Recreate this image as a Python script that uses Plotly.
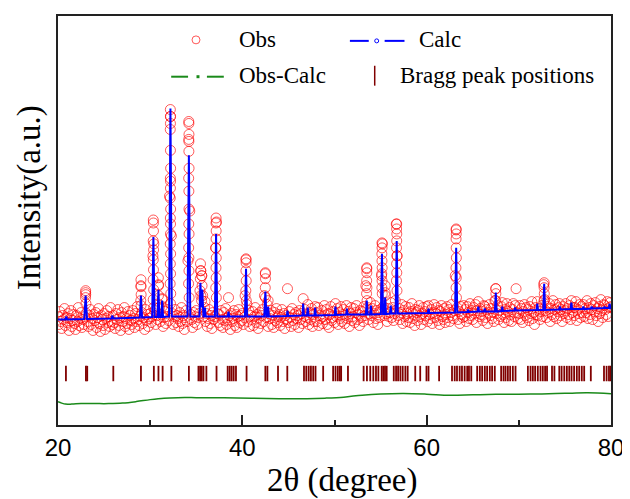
import numpy as np
import plotly.graph_objects as go

# ---------------- data (intensity in a.u.) ----------------
# observed pattern, sampled every 0.1 degree from 20.0 to 80.0
obs_rows = [
    [109,101,114,104,97,110,106,117,100,108],   # 20
    [103,112,95,107,115,99,105,111,102,96],     # 21
    [110,104,118,100,107,113,98,106,101,109],   # 22
    [133,112,104,99,110,116,101,107,95,111],    # 23
    [105,113,98,108,117,102,94,110,106,100],    # 24
    [112,96,107,115,103,109,99,118,104,101],    # 25
    [110,103,97,112,106,116,100,108,95,113],    # 26
    [104,109,118,99,107,102,114,96,110,105],    # 27
    [101,115,107,98,112,104,119,106,100,109],   # 28
    [140,113,102,108,96,116,105,111,99,107],    # 29
    [112,103,109,170,182,115,101,110,106,141],  # 30
    [118,104,111,127,99,108,114,102,109,116],   # 31
    [105,230,310,190,112,101,109,116,103,110],  # 32
    [107,99,113,104,118,102,110,96,108,115],    # 33
    [104,165,285,215,111,106,98,113,103,109],   # 34
    [115,101,108,112,135,155,150,130,109,118],  # 35
    [104,112,99,107,116,102,110,97,113,106],    # 36
    [109,178,204,112,103,111,100,115,106,98],   # 37
    [113,105,117,101,108,128,110,96,112,104],   # 38
    [107,115,100,111,98,109,116,103,110,105],   # 39
    [112,101,108,130,166,121,104,115,99,110],   # 40
    [106,114,100,109,118,103,111,97,108,113],   # 41
    [102,110,116,104,130,152,108,121,99,112],   # 42
    [107,115,101,110,98,113,105,117,103,109],   # 43
    [111,100,108,116,104,112,97,110,106,137],   # 44
    [103,114,108,99,117,105,111,101,113,107],   # 45
    [110,98,115,106,112,102,127,109,116,104],   # 46
    [108,121,101,113,106,117,99,111,104,119],   # 47
    [113,104,118,100,110,107,115,102,109,120],  # 48
    [106,116,101,112,98,111,119,105,108,114],   # 49
    [103,122,109,117,101,113,107,119,104,111],  # 50
    [116,102,110,120,107,114,99,112,118,105],   # 51
    [109,117,103,113,120,106,111,100,115,108],  # 52
    [114,104,119,110,140,157,118,106,112,123],  # 53
    [110,117,103,112,120,107,115,101,113,108],  # 54
    [116,150,182,119,110,133,112,104,117,109],  # 55
    [113,123,108,118,105,112,125,202,170,110],  # 56
    [117,106,113,121,102,115,109,119,104,112],  # 57
    [108,118,103,114,122,107,111,100,116,113],  # 58
    [105,115,120,109,101,112,118,106,114,110],  # 59
    [119,104,120,111,107,116,102,113,121,108],  # 60
    [112,118,105,115,101,114,120,109,106,117],  # 61
    [103,111,119,108,116,104,113,121,110,107],  # 62
    [115,150,196,118,106,114,102,119,111,108],  # 63
    [120,109,116,104,119,113,107,122,110,115],  # 64
    [106,118,112,121,103,115,124,109,117,111],  # 65
    [114,105,120,119,108,116,102,113,121,110],  # 66
    [117,107,113,104,125,137,112,120,106,115],  # 67
    [109,119,123,111,103,116,108,122,114,105],  # 68
    [118,111,104,116,122,109,120,137,113,107],  # 69
    [112,120,106,117,103,114,121,110,118,108],  # 70
    [116,105,119,112,124,107,113,101,118,111],  # 71
    [124,110,117,106,114,120,109,141,126,115],  # 72
    [108,119,113,122,104,117,111,125,109,116],  # 73
    [121,107,114,118,122,110,116,104,119,112],  # 74
    [115,122,108,117,111,120,106,125,113,118],  # 75
    [110,118,124,105,116,112,121,108,119,113],  # 76
    [121,109,117,113,125,107,118,111,122,116],  # 77
    [106,120,114,123,110,117,104,119,112,126],  # 78
    [115,108,121,120,116,111,124,109,118,123],  # 79
    [119],                                      # 80.0
]
obs_grid_int = [v for row in obs_rows for v in row]
obs_grid_2theta = [round(20 + 0.1 * i, 1) for i in range(len(obs_grid_int))]

# extra observed points on the flanks of the reflections (fine step scan)
obs_peak_2theta = [
    22.99, 23.0, 23.01, 23.03,
    28.98, 29.0, 29.0, 29.02, 29.01,
    30.34, 30.35, 30.36, 30.33, 30.37, 30.34, 30.36, 30.32, 30.38, 30.33, 30.38,
    30.89, 30.91, 30.9, 30.92, 31.3, 31.31,
    32.19, 32.21, 32.2, 32.18, 32.2, 32.22, 32.19, 32.21, 32.2, 32.18, 32.22,
    32.19, 32.21, 32.2, 32.18, 32.22, 32.19, 32.21, 32.17, 32.23, 32.2,
    34.19, 34.2, 34.21, 34.19, 34.2, 34.22, 34.18, 34.2, 34.21, 34.19, 34.22,
    34.18, 34.2, 34.21, 34.17, 34.23,
    35.46, 35.48, 35.44, 35.6, 35.63, 35.5, 35.58, 35.95,
    37.15, 37.14, 37.16, 37.15, 37.13, 37.17, 37.14, 37.16, 37.12, 37.18,
    40.4, 40.41, 40.39, 40.42, 40.38, 40.43,
    42.5, 42.51, 42.49, 42.52, 42.8,
    53.5, 53.51, 53.49, 53.52, 53.48, 53.53,
    55.15, 55.16, 55.14, 55.15, 55.17, 55.13, 55.16, 55.14, 55.18, 55.5, 55.52,
    56.75, 56.74, 56.76, 56.75, 56.73, 56.77, 56.74, 56.76, 56.72, 56.78,
    63.2, 63.21, 63.19, 63.2, 63.22, 63.18, 63.21, 63.19, 63.23,
    67.5, 67.51, 67.49,
    72.75, 72.74, 72.76, 72.73,
]
obs_peak_int = [
    128, 135, 131, 122,
    125, 146, 139, 131, 120,
    206, 203, 195, 185, 176, 166, 156, 146, 136, 126, 118,
    148, 140, 130, 121, 126, 119,
    317, 310, 303, 297, 276, 258, 248, 245, 238, 228, 217,
    208, 202, 192, 182, 172, 162, 152, 142, 132, 122,
    305, 303, 292, 287, 275, 258, 248, 235, 217, 202, 192,
    178, 168, 155, 142, 128,
    162, 155, 147, 150, 140, 130, 125, 124,
    208, 203, 195, 187, 178, 168, 158, 148, 138, 128,
    167, 163, 155, 145, 135, 125,
    153, 147, 138, 128, 125,
    158, 153, 145, 138, 132, 125,
    183, 178, 172, 165, 158, 152, 145, 138, 132, 140, 130,
    202, 197, 192, 185, 178, 170, 162, 153, 145, 135,
    197, 192, 187, 178, 168, 158, 148, 138, 128,
    137, 132, 125,
    143, 138, 132, 125,
]

# calculated profile
calc_2theta = [
    20.0, 20.8, 20.9, 21.0,
    22.85, 23.0, 23.15, 25.8, 25.9, 26.0,
    28.88, 29.0, 29.12, 30.22, 30.35, 30.48,
    30.8, 30.9, 31.0, 31.2, 31.3, 31.4,
    32.05, 32.2, 32.35, 34.05, 34.2, 34.35,
    35.35, 35.45, 35.55, 35.65, 35.78, 35.88, 35.95, 36.02,
    37.02, 37.15, 37.28, 38.42, 38.5, 38.58,
    40.28, 40.4, 40.52, 42.38, 42.5, 42.62, 42.72, 42.8, 42.88,
    44.82, 44.9, 44.98, 46.52, 46.6, 46.68,
    47.02, 47.1, 47.18, 47.82, 47.9, 47.98,
    50.02, 50.1, 50.18, 51.27, 51.35, 51.43,
    53.4, 53.5, 53.6, 53.87, 53.95, 54.03,
    55.03, 55.15, 55.27, 55.42, 55.5, 55.58,
    56.02, 56.1, 56.18, 56.63, 56.75, 56.87,
    60.12, 60.2, 60.28, 63.08, 63.2, 63.32,
    64.42, 64.5, 64.58, 65.52, 65.6, 65.68,
    66.22, 66.3, 66.38, 67.4, 67.5, 67.6,
    68.12, 68.2, 68.28, 69.52, 69.6, 69.68,
    71.92, 72.0, 72.08, 72.65, 72.75, 72.85,
    74.37, 74.45, 74.53, 75.62, 75.7, 75.78,
    76.92, 77.0, 77.08, 77.82, 77.9, 77.98,
    79.22, 79.3, 79.38, 79.77, 79.85, 79.93, 80.0,
]
calc_int = [
    106, 106, 109, 106,
    106.5, 130, 106.5, 107, 110, 107,
    108, 130, 108, 108.5, 189, 108.5,
    108.5, 136, 108.5, 108.5, 125, 108.5,
    109, 318, 109, 109, 271, 109,
    109, 143, 118, 136, 109, 109, 118, 109,
    109, 192, 109, 109, 114, 109,
    109, 157, 109, 109, 134, 109, 109, 119, 109,
    109.5, 115, 109.5, 110, 122, 110,
    110, 118, 110, 110, 118, 110,
    110.5, 119, 110.5, 111, 117, 111,
    111, 125, 111, 111, 120, 111,
    111.5, 172, 111.5, 111.5, 128, 111.5,
    112, 120, 112, 112, 185, 112,
    112.5, 117, 112.5, 113, 178, 113,
    113.5, 116, 113.5, 114, 119, 114,
    114, 117, 114, 114, 133, 114,
    114.5, 119, 114.5, 115, 118, 115,
    115.5, 122, 115.5, 115.5, 142, 115.5,
    116, 119, 116, 116.5, 123, 116.5,
    116.5, 119, 116.5, 117, 119, 117,
    117.5, 119, 117.5, 117.5, 122, 117.5, 118,
]

# difference curve (Obs - Calc), drawn with an offset below the pattern
diff_2theta = [20, 20.4, 20.8, 21.5, 22.5, 24, 25.5, 27, 28.5, 30, 31.5, 33, 35, 38,
               41, 44, 47, 49, 51, 53, 55, 57.5, 60, 62.5, 65, 67.5, 70, 72.5, 75, 77.5, 80]
diff_int = [23.3, 22, 21, 21, 21.5, 21.5, 21.5, 22, 23.5, 25.5, 27, 27.5, 27.5, 27.3,
            27, 26.5, 26.5, 27, 28, 30, 31.2, 31.7, 31, 29.8, 30.3, 30.8, 31, 31.2, 31.8, 32.3, 31.3]

# Bragg reflection positions
bragg_2theta = [
    20.86, 23.03, 23.17, 26.0, 29.0, 30.4, 30.9, 31.35, 32.3, 34.2,
    35.24, 35.42, 35.59, 35.78, 36.1, 37.2,
    38.41, 38.63, 38.84, 39.06, 39.31, 40.46, 42.5, 42.72, 43.87, 44.88,
    46.69, 46.94, 47.2, 47.44, 47.69, 47.94, 48.77,
    49.85, 50.11, 50.36, 50.58, 50.72, 51.46,
    53.16, 53.52, 53.88, 54.21, 54.5, 54.76, 55.12, 55.3, 55.48, 55.66,
    56.43, 56.68, 56.9, 57.15, 57.4, 57.69, 57.94, 58.76, 59.3, 59.98, 60.2, 61.35,
    62.75, 63.04, 63.29, 63.58, 63.83, 64.12, 64.4, 64.59, 64.84,
    65.48, 65.77, 66.02, 66.31, 66.56, 66.85, 67.1, 67.39,
    68.08, 68.34, 68.56, 68.81, 69.06, 69.35, 69.64,
    70.98, 71.27, 71.52, 71.77, 72.06, 72.35, 72.6, 72.85, 73.06, 73.6, 73.86,
    74.39, 74.64, 74.93, 75.21, 75.47, 75.72, 76.0, 76.29, 76.55, 76.83, 77.09, 77.81,
    79.24, 79.52, 79.78, 79.95,
]
bragg_level = 51.7

x_ticks = [20, 40, 60, 80]
x_tick_labels = ["20", "40", "60", "80"]

# ---------------- figure ----------------
# the page body adds an 8 px margin, so the figure is 8 px smaller and
# all screen positions below are given in window pixels minus that margin
OFF = 8
W, H = 630 - OFF, 499 - OFF
PL, PR, PT, PB = 58, 615, 14, 425          # plot area in window pixels
L, R, T, B = PL - OFF, (630 - PR), PT - OFF, (499 - PB)
PW, PH = W - L - R, H - T - B
Y_MAX = 411


def px(xp):
    return (xp - PL) / PW


def py(yp):
    return (PB - yp) / PH


RED = "rgba(255,0,0,0.65)"
BLUE = "#0000ff"
GREEN = "#1a8a1a"
MAROON = "#800000"
SERIF = "Liberation Serif"

fig = go.Figure()
fig.add_trace(go.Scatter(
    x=obs_grid_2theta + obs_peak_2theta, y=obs_grid_int + obs_peak_int,
    mode="markers", name="Obs",
    marker=dict(symbol="circle-open", size=10, color=RED, line=dict(width=1, color=RED)),
))
fig.add_trace(go.Scatter(
    x=calc_2theta, y=calc_int, mode="lines", name="Calc",
    line=dict(color=BLUE, width=2),
))
fig.add_trace(go.Scatter(
    x=diff_2theta, y=diff_int, mode="lines", name="Obs-Calc",
    line=dict(color=GREEN, width=1.5, shape="spline", smoothing=1.0),
))
fig.add_trace(go.Scatter(
    x=bragg_2theta, y=[bragg_level] * len(bragg_2theta), mode="markers",
    name="Bragg peak positions",
    marker=dict(symbol="line-ns-open", size=11, color=MAROON, line=dict(width=1.8, color=MAROON)),
))

# legend drawn by hand (two rows, as in the original)
shapes = []
annotations = []
r1, r2 = 38, 74
shapes.append(dict(type="circle", xref="paper", yref="paper",
                   x0=px(193), x1=px(201), y0=py(r1 - 4), y1=py(r1 + 4),
                   line=dict(color=RED, width=1)))
shapes.append(dict(type="line", xref="paper", yref="paper",
                   x0=px(352), x1=px(371), y0=py(r1 + 1), y1=py(r1 + 1),
                   line=dict(color=BLUE, width=2)))
shapes.append(dict(type="line", xref="paper", yref="paper",
                   x0=px(387), x1=px(407), y0=py(r1 + 1), y1=py(r1 + 1),
                   line=dict(color=BLUE, width=2)))
shapes.append(dict(type="circle", xref="paper", yref="paper",
                   x0=px(377), x1=px(381), y0=py(r1 - 1), y1=py(r1 + 3),
                   line=dict(color=BLUE, width=1)))
shapes.append(dict(type="line", xref="paper", yref="paper",
                   x0=px(172), x1=px(189), y0=py(r2 + 1), y1=py(r2 + 1),
                   line=dict(color=GREEN, width=2)))
shapes.append(dict(type="rect", xref="paper", yref="paper",
                   x0=px(197.5), x1=px(200.5), y0=py(r2 - 0.5), y1=py(r2 + 2.5),
                   line=dict(width=0), fillcolor=GREEN))
shapes.append(dict(type="line", xref="paper", yref="paper",
                   x0=px(208), x1=px(225), y0=py(r2 + 1), y1=py(r2 + 1),
                   line=dict(color=GREEN, width=2)))
shapes.append(dict(type="line", xref="paper", yref="paper",
                   x0=px(377), x1=px(377), y0=py(r2 - 10), y1=py(r2 + 10),
                   line=dict(color=MAROON, width=1.5)))

for text, xl, yc in [("Obs", 238, r1), ("Calc", 420, r1),
                     ("Obs-Calc", 238, r2), ("Bragg peak positions", 400, r2)]:
    annotations.append(dict(text=text, xref="paper", yref="paper", x=px(xl), y=py(yc),
                            xanchor="left", yanchor="middle", showarrow=False,
                            font=dict(family=SERIF, size=23, color="black")))

# axis titles
annotations.append(dict(text="2θ (degree)", xref="paper", yref="paper", x=px(344), y=py(481),
                        xanchor="center", yanchor="middle", showarrow=False,
                        font=dict(family=SERIF, size=33, color="black")))
annotations.append(dict(text="Intensity(a.u.)", xref="paper", yref="paper", x=px(29), y=py(197),
                        xanchor="center", yanchor="middle", showarrow=False, textangle=-90,
                        font=dict(family=SERIF, size=33, color="black")))

fig.update_layout(
    width=W, height=H,
    margin=dict(l=L, r=R, t=T, b=B),
    paper_bgcolor="white", plot_bgcolor="white",
    showlegend=False,
    shapes=shapes, annotations=annotations,
    xaxis=dict(range=[20, 80], tickvals=x_ticks, ticktext=x_tick_labels,
               ticks="inside", ticklen=10, tickwidth=1.5, tickcolor="#222",
               minor=dict(dtick=10, tick0=20, ticks="inside", ticklen=5, tickwidth=1.5, tickcolor="#222"),
               showline=True, linewidth=2, linecolor="#222", mirror=True,
               showgrid=False, zeroline=False,
               tickfont=dict(family="Liberation Sans", size=24, color="black")),
    yaxis=dict(range=[0, Y_MAX], showticklabels=False, ticks="",
               showline=True, linewidth=2, linecolor="#222", mirror=True,
               showgrid=False, zeroline=False),
)

fig.write_html("out.html")
